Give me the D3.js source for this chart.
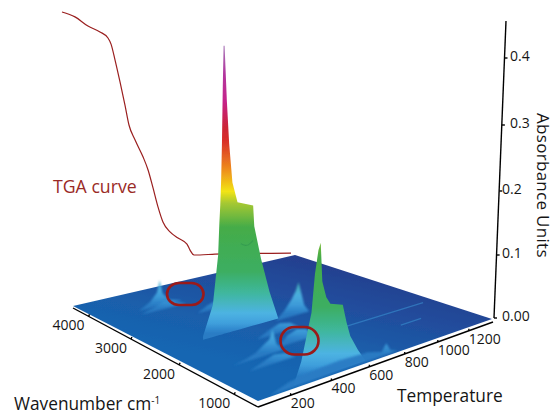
<!DOCTYPE html>
<html><head><meta charset="utf-8">
<style>html,body{margin:0;padding:0;background:#fff}svg{display:block}text{font-family:"Open Sans",sans-serif;fill:#151515}</style>
<script src="https://cdn.jsdelivr.net/npm/d3@7"></script></head><body>
<svg id="c" width="555" height="414"></svg>
<script>
// ---------- data ----------
const wavenumberTicks=[4000,3000,2000,1000];
const temperatureTicks=[200,400,600,800,1000,1200];
const absorbanceTicks=[0,0.1,0.2,0.3,0.4];
const absorbanceLabels=["0.00","0.1","0.2","0.3","0.4"];
const tgaTemp=[0,68,136,199,241,257,278,304,330,351,383,425,451,477,503,529,566,608,655,671,692,723,802,1200];
const tgaMass=[100,98,94.2,91.8,89.3,86.8,80.2,71.2,61.7,53.5,47.3,40.3,35,27.6,19.8,13.6,9.5,7,4.5,2,0,0,0.4,0.8];
// chemigram ridges: temperature profile at one wavenumber
const mainWn=2350;
const mainT=[250,300,328,335,340,345,350,355,360,365,375,386,402,428,510,516,552,600,650];
const mainA=[0.005,0.046,0.116,0.162,0.188,0.224,0.279,0.356,0.419,0.419,0.34,0.276,0.218,0.188,0.179,0.148,0.098,0.044,0];
const creaseT=[445,470,490,510];
const creaseA=[0.126,0.121,0.122,0.127];
const bendWn=670;
const bendT=[232,268,316,331,347,358,368,389,410,474,495,516,558,600];
const bendA=[0,0.027,0.086,0.135,0.165,0.174,0.123,0.101,0.091,0.085,0.06,0.04,0.018,0];
const frontWn=640;
const frontT=[110,200,300,450,600,680,705,730,770];
const frontA=[0,0.008,0.012,0.014,0.012,0.006,0.016,0.004,0];
const waterHighWn=3700;
const waterHighT=[240,300,335,350,365,400,470];
const waterHighA=[0,0.01,0.022,0.04,0.018,0.006,0];
const waterFanWn=3560;
const waterFanT=[220,280,340,400,460];
const waterFanA=[0,0.006,0.012,0.006,0];
const circleBackWn=3150;
const circleBackT=[420,470,520,580,640,700];
const circleBackA=[0,0.008,0.012,0.012,0.007,0];
const waterLowWn=2300;
const waterLowT=[620,670,710,735,750,765,785,815];
const waterLowA=[0,0.012,0.026,0.038,0.05,0.034,0.012,0];
const bumpWn=1500;
const bumpT=[176,240,290,330,355,372,392,425];
const bumpA=[0,0.003,0.008,0.016,0.02,0.033,0.012,0];
const bumpFanWn=1260;
const bumpFanT=[190,250,310,370,420];
const bumpFanA=[0,0.006,0.012,0.009,0];
const circleWn=1600;
const circleT=[430,480,530,580,620];
const circleA=[0,0.013,0.018,0.014,0];
const linkWn=1950;
const linkT=[420,480,540,600,650];
const linkA=[0,0.008,0.014,0.01,0];
// pale lines on the floor: wavenumber, from temperature, to temperature
const streakWn=[1600,1200];
const streakFrom=[640,1000];
const streakTo=[1300,1130];

// ---------- layout ----------
const svg=d3.select("#c");
const wnScale=d3.scaleLinear().domain([4400,610]).range([0,1]);
const tScale=d3.scaleLinear().domain([50,1365]).range([0,1]);
function homography(P0,P1,P2,P3){
  const dx1=P1[0]-P2[0],dx2=P3[0]-P2[0],dy1=P1[1]-P2[1],dy2=P3[1]-P2[1];
  const sx=P0[0]-P1[0]+P2[0]-P3[0],sy=P0[1]-P1[1]+P2[1]-P3[1];
  const den=dx1*dy2-dx2*dy1;
  const g=(sx*dy2-dx2*sy)/den,h=(dx1*sy-sx*dy1)/den;
  const a=P1[0]-P0[0]+g*P1[0],b=P3[0]-P0[0]+h*P3[0],c=P0[0];
  const d=P1[1]-P0[1]+g*P1[1],e=P3[1]-P0[1]+h*P3[1],f=P0[1];
  return (u,v)=>{const w=g*u+h*v+1;return [(a*u+b*v+c)/w,(d*u+e*v+f)/w,w/(g+h+1)];};
}
const floorH=homography([73,306],[258,401],[492,319],[295,255]);
const axisH=homography([73,308],[258,407],[493,322],[295,255]);
const zAxis=d3.scaleLinear().domain([0,0.4]).range([0,260]);
function project(wn,T,A=0){
  const [x,y,w]=floorH(wnScale(wn),tScale(T));
  const z=zAxis(A)/w;
  return [x+(x-250)*z/6100,y-z];
}
const colorStops=[[0.0,"#2a7cc4"],[0.005,"#2f86cc"],[0.015,"#3f9fdc"],[0.03,"#4db3e2"],[0.06,"#3fb79c"],[0.09,"#3cae62"],[0.155,"#45ac48"],[0.19,"#a6c832"],[0.207,"#f2e415"],[0.24,"#ee8a1d"],[0.28,"#d92f27"],[0.30,"#cc2535"],[0.338,"#c5238a"],[0.38,"#b1389f"],[0.42,"#a878b8"]];
const defs=svg.append("defs");
const addBlur=(id,s)=>defs.append("filter").attr("id",id).attr("x","-30%").attr("y","-30%").attr("width","160%").attr("height","160%")
  .append("feGaussianBlur").attr("stdDeviation",s);
addBlur("soft",0.5);addBlur("soft2",1.1);
const floorG=defs.append("linearGradient").attr("id","floorG").attr("gradientUnits","userSpaceOnUse")
  .attr("x1",295).attr("y1",255).attr("x2",270).attr("y2",370);
[[0,"#253f8e"],[0.3,"#214c9c"],[0.7,"#1a5fab"],[1,"#1766b2"]].forEach(s=>floorG.append("stop").attr("offset",s[0]).attr("stop-color",s[1]));

const surface=svg.append("g").attr("filter","url(#soft)");
const line=d3.line();
const [wA,wB]=wnScale.domain(),[tA,tB]=tScale.domain();
surface.append("path").attr("fill","url(#floorG)")
  .attr("d",line([project(wA,tA),project(wB,tA),project(wB,tB),project(wA,tB)])+"Z");
surface.selectAll("line.streak").data(streakWn).join("line").attr("class","streak")
  .attr("x1",(w,i)=>project(w,streakFrom[i])[0]).attr("y1",(w,i)=>project(w,streakFrom[i])[1])
  .attr("x2",(w,i)=>project(w,streakTo[i])[0]).attr("y2",(w,i)=>project(w,streakTo[i])[1])
  .attr("stroke","#3b8fd0").attr("stroke-width",1.3).attr("stroke-opacity",.6);

// TGA curve
const tgaX=d3.scaleLinear().domain([0,1200]).range([62,291]);
const tgaY=d3.scaleLinear().domain([0,100]).range([255,12]);
const tgaLine=d3.line().x((_,i)=>tgaX(tgaTemp[i])).y(m=>tgaY(m)).curve(d3.curveMonotoneX);
svg.append("path").attr("d",tgaLine(tgaMass)).attr("fill","none").attr("stroke","#9a1f1f").attr("stroke-width",1.2);

const surface2=svg.append("g");
const ridges=[
 {wn:waterHighWn,T:waterHighT,A:waterHighA},
 {wn:waterFanWn,T:waterFanT,A:waterFanA},
 {wn:circleBackWn,T:circleBackT,A:circleBackA},
 {wn:waterLowWn,T:waterLowT,A:waterLowA},
 {wn:mainWn,T:mainT,A:mainA},
 {wn:linkWn,T:linkT,A:linkA},
 {wn:circleWn,T:circleT,A:circleA},
 {wn:bumpWn,T:bumpT,A:bumpA},
 {wn:bumpFanWn,T:bumpFanT,A:bumpFanA},
 {wn:bendWn,T:bendT,A:bendA},
 {wn:frontWn,T:frontT,A:frontA}];
const maxStop=0.42;
ridges.forEach((r,k)=>{
  const iMax=d3.maxIndex(r.A);
  const base=project(r.wn,r.T[iMax],0), top=project(r.wn,r.T[iMax],maxStop);
  const gr=defs.append("linearGradient").attr("id","rg"+k).attr("gradientUnits","userSpaceOnUse")
    .attr("x1",0).attr("x2",0).attr("y1",base[1]).attr("y2",top[1]);
  colorStops.forEach(s=>gr.append("stop").attr("offset",s[0]/maxStop).attr("stop-color",s[1]));
  const upper=r.T.map((t,i)=>project(r.wn,t,r.A[i]));
  const lower=r.T.map(t=>project(r.wn,t,0)).reverse();
  const low=r.A[iMax]<0.06;
  surface2.append("path").attr("d",line(upper.concat(lower))+"Z").attr("fill","url(#rg"+k+")")
    .attr("filter",low?"url(#soft2)":"url(#soft)").attr("opacity",low?0.95:1);
});
surface2.append("path").attr("d",d3.line().curve(d3.curveBasis)(creaseT.map((t,i)=>project(mainWn,t,creaseA[i]))))
  .attr("fill","none").attr("stroke","#2c8f4e").attr("stroke-width",1.1).attr("stroke-opacity",.55).attr("filter","url(#soft)");

// annotations
svg.append("rect").attr("x",167).attr("y",283).attr("width",36.5).attr("height",22).attr("rx",12).attr("fill","none").attr("stroke","#9a1a1a").attr("stroke-width",2.6);
svg.append("rect").attr("x",280.5).attr("y",327).attr("width",38).attr("height",27.5).attr("rx",14).attr("fill","none").attr("stroke","#9a1a1a").attr("stroke-width",2.6);
svg.append("text").attr("x",53).attr("y",193).attr("font-size",17.7).style("fill","#9a2a26").text("TGA curve");

// axes
const ax=svg.append("g").attr("stroke","#000").attr("stroke-width",1.4);
const wnPos=w=>axisH(wnScale(w),0);
const tPos=t=>axisH(1,tScale(t));
const L=axisH(0,0),F=axisH(1,0),R=axisH(1,1);
ax.append("line").attr("x1",L[0]).attr("y1",L[1]).attr("x2",F[0]).attr("y2",F[1]);
ax.append("line").attr("x1",F[0]).attr("y1",F[1]).attr("x2",R[0]).attr("y2",R[1]);
const vx=d3.scaleLinear().domain([0,0.4]).range([494,504.5]);
const vy=d3.scaleLinear().domain([0,0.1,0.2,0.3,0.4,0.457]).range([318,255,191,125,58,21]);
ax.append("line").attr("x1",vx(0)).attr("y1",vy(0)).attr("x2",vx(0.457)).attr("y2",vy(0.457));
ax.selectAll("line.wt").data(wavenumberTicks).join("line").attr("class","wt")
  .attr("x1",w=>wnPos(w)[0]).attr("y1",w=>wnPos(w)[1]).attr("x2",w=>wnPos(w)[0]+1).attr("y2",w=>wnPos(w)[1]-2);
ax.selectAll("line.tt").data(temperatureTicks).join("line").attr("class","tt")
  .attr("x1",t=>tPos(t)[0]).attr("y1",t=>tPos(t)[1]).attr("x2",t=>tPos(t)[0]).attr("y2",t=>tPos(t)[1]-2);
ax.selectAll("line.at").data(absorbanceTicks).join("line").attr("class","at")
  .attr("x1",v=>vx(v)).attr("y1",v=>vy(v)).attr("x2",v=>vx(v)+3).attr("y2",v=>vy(v));
const tf=14;
svg.selectAll("text.wl").data(wavenumberTicks).join("text").attr("class","wl").attr("font-size",tf).attr("text-anchor","end")
  .attr("x",w=>wnPos(w)[0]-4).attr("y",w=>wnPos(w)[1]+14).text(w=>w);
svg.selectAll("text.tl").data(temperatureTicks).join("text").attr("class","tl").attr("font-size",tf)
  .attr("x",t=>tPos(t)[0]).attr("y",t=>tPos(t)[1]+13).text(t=>t);
svg.selectAll("text.al").data(absorbanceTicks).join("text").attr("class","al").attr("font-size",tf)
  .attr("x",(v,i)=>[502,502,502,510,510][i]).attr("y",v=>vy(v)+3).text((v,i)=>absorbanceLabels[i]);
svg.append("text").attr("x",397).attr("y",402).attr("font-size",17.3).text("Temperature");
const wl=svg.append("text").attr("x",14).attr("y",410).attr("font-size",17.3).text("Wavenumber cm");
wl.append("tspan").attr("font-size",10).attr("dy",-6).text("-1");
svg.append("text").attr("transform","translate(537,113) rotate(90)").attr("font-size",17).attr("letter-spacing",0.3).text("Absorbance Units");
</script></body></html>
